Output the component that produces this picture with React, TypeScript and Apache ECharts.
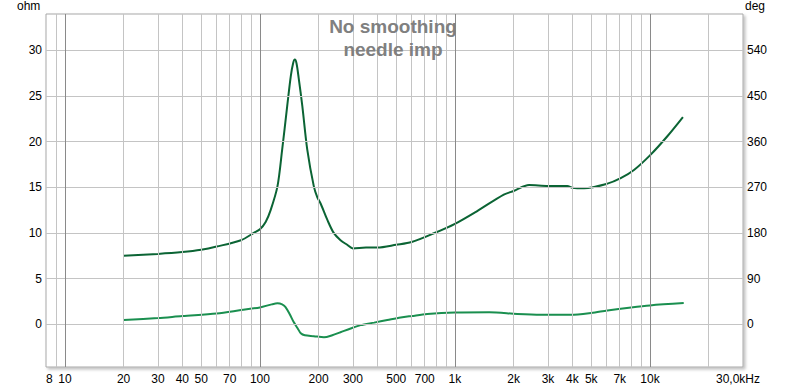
import React, { useEffect, useRef } from "react";
import * as echarts from "echarts";

// Impedance magnitude (ohm) vs frequency (Hz)
const impFreq = [20, 30, 40, 50, 60, 80, 93, 100, 107, 113.5, 123, 130, 138, 144, 148, 151, 154, 158, 165, 175, 189, 197, 205, 222, 239, 259, 280, 300, 350, 400, 500, 600, 780, 1000, 1300, 1780, 2000, 2400, 3000, 3770, 4000, 4600, 6050, 7080, 8280, 10000, 12280, 14760];
const impOhm = [7.5, 7.7, 7.9, 8.15, 8.5, 9.2, 10.0, 10.4, 11.2, 12.5, 15.1, 19.1, 23.9, 27.2, 28.6, 29.0, 28.6, 27.0, 23.9, 19.1, 15.1, 13.9, 13.2, 11.4, 10.0, 9.2, 8.7, 8.3, 8.4, 8.4, 8.7, 9.0, 9.96, 11.0, 12.4, 14.2, 14.6, 15.25, 15.15, 15.15, 14.96, 14.9, 15.4, 16.0, 16.9, 18.5, 20.6, 22.7];

// Impedance phase (deg) vs frequency (Hz)
const phaseFreq = [20, 30, 40, 60, 80, 100, 115, 123, 130, 135, 142, 149, 156, 162, 170, 189, 213, 235, 259, 292, 328, 385, 450, 527, 600, 721, 1000, 1500, 2090, 2754, 3920, 5000, 6050, 8000, 10000, 14900];
const phaseDeg = [8, 12, 16, 21, 27.7, 33, 39, 41, 39, 34, 20, 4, -8, -18, -22, -23.7, -26, -22, -16, -8.5, -2, 3, 8, 13, 16, 20, 23, 23.5, 20, 18.4, 18.4, 22, 27, 33, 37, 41.5];

// Axis ticks / labels
const xTickValues = [8, 10, 20, 30, 40, 50, 70, 100, 200, 300, 500, 700, 1000, 2000, 3000, 4000, 5000, 7000, 10000, 30000];
const xTickLabels = ["8", "10", "20", "30", "40", "50", "70", "100", "200", "300", "500", "700", "1k", "2k", "3k", "4k", "5k", "7k", "10k", "30,0kHz"];
const xMajorGrid = [10, 100, 1000, 10000];
const xMinorGrid = [9, 20, 30, 40, 50, 60, 70, 80, 90, 200, 300, 400, 500, 600, 700, 800, 900, 2000, 3000, 4000, 5000, 6000, 7000, 8000, 9000, 20000];
const ohmTicks = [0, 5, 10, 15, 20, 25, 30];
const degTicks = [0, 90, 180, 270, 360, 450, 540];

const FONT = "'Liberation Sans', Arial, sans-serif";
const NBSP = "\u00a0";

export default function App() {
  const ref = useRef<HTMLDivElement>(null);

  useEffect(() => {
    document.body.style.margin = "0";
    if (!ref.current) return;
    const chart = echarts.init(ref.current, undefined, { renderer: "svg" });

    const impData = impFreq.map((f, i) => [f, impOhm[i]]);
    const phaseData = phaseFreq.map((f, i) => [f, phaseDeg[i]]);

    const vLines = (vals: number[]) => vals.map((v) => ({ xAxis: v }));
    const hLines = (vals: number[]) => vals.map((v) => ({ yAxis: v }));

    const markBase = {
      silent: true,
      symbol: ["none", "none"],
      label: { show: false },
      emphasis: { disabled: true },
      animation: false,
    };

    const labelText = { fontFamily: FONT, fontSize: 12, color: "#000" };

    chart.setOption({
      animation: false,
      backgroundColor: "#ffffff",
      grid: {
        left: 46,
        top: 14,
        right: 57,
        bottom: 21,
        show: true,
        borderColor: "#a8a8a8",
        borderWidth: 1,
        backgroundColor: "#ffffff",
        shadowColor: "rgba(0,0,0,0.25)",
        shadowBlur: 3,
        shadowOffsetX: 2,
        shadowOffsetY: 2,
      },
      graphic: [
        {
          type: "text",
          z: 10,
          style: {
            text: "No smoothing\nneedle imp",
            x: 393,
            y: 15,
            textAlign: "center",
            textVerticalAlign: "top",
            font: `bold 19px ${FONT}`,
            lineHeight: 23,
            fill: "#808080",
          },
        },
        {
          type: "text",
          style: { text: "ohm", x: 17, y: 0, font: `12px ${FONT}`, fill: "#000" },
        },
        {
          type: "text",
          style: { text: "deg", x: 745, y: 0, font: `12px ${FONT}`, fill: "#000" },
        },
      ],
      xAxis: {
        type: "log",
        logBase: 10,
        min: 8,
        max: 30000,
        axisLine: { show: false },
        axisTick: { show: false },
        splitLine: { show: false },
        minorSplitLine: { show: false },
        axisLabel: {
          customValues: xTickValues,
          margin: 6,
          ...labelText,
          rich: {
            last: { ...labelText, width: 54, align: "left" },
          },
          formatter: (v: number) => {
            const i = xTickValues.findIndex((t) => Math.abs(t - v) / t < 1e-6);
            if (i < 0) return "";
            if (i === 0) return NBSP + NBSP + xTickLabels[i];
            if (i === xTickValues.length - 1) return `{last|${xTickLabels[i]}}`;
            return xTickLabels[i];
          },
        },
      },
      yAxis: [
        {
          type: "value",
          min: -4.7,
          max: 34,
          axisLine: { show: false },
          axisTick: { show: false },
          splitLine: { show: false },
          axisLabel: { customValues: ohmTicks, margin: 4, ...labelText },
        },
        {
          type: "value",
          min: -84.6,
          max: 612,
          position: "right",
          axisLine: { show: false },
          axisTick: { show: false },
          splitLine: { show: false },
          axisLabel: { customValues: degTicks, margin: 4, ...labelText },
        },
      ],
      series: [
        {
          type: "line",
          data: [],
          z: 0,
          markLine: {
            ...markBase,
            lineStyle: { type: "solid", width: 1, color: "#c4c4c4" },
            data: [...vLines(xMinorGrid), ...hLines(ohmTicks)],
          },
        },
        {
          type: "line",
          data: [],
          z: 0,
          markLine: {
            ...markBase,
            lineStyle: { type: "solid", width: 1, color: "#8a8a8a" },
            data: vLines(xMajorGrid),
          },
        },
        {
          name: "phase",
          type: "line",
          yAxisIndex: 1,
          data: phaseData,
          showSymbol: false,
          smooth: 0.3,
          z: 3,
          lineStyle: { color: "#1a8f4f", width: 2 },
        },
        {
          name: "impedance",
          type: "line",
          yAxisIndex: 0,
          data: impData,
          showSymbol: false,
          smooth: 0.3,
          z: 4,
          lineStyle: { color: "#0b6434", width: 2 },
        },
      ],
    });

    return () => chart.dispose();
  }, []);

  return <div ref={ref} style={{ width: 800, height: 388 }} />;
}
